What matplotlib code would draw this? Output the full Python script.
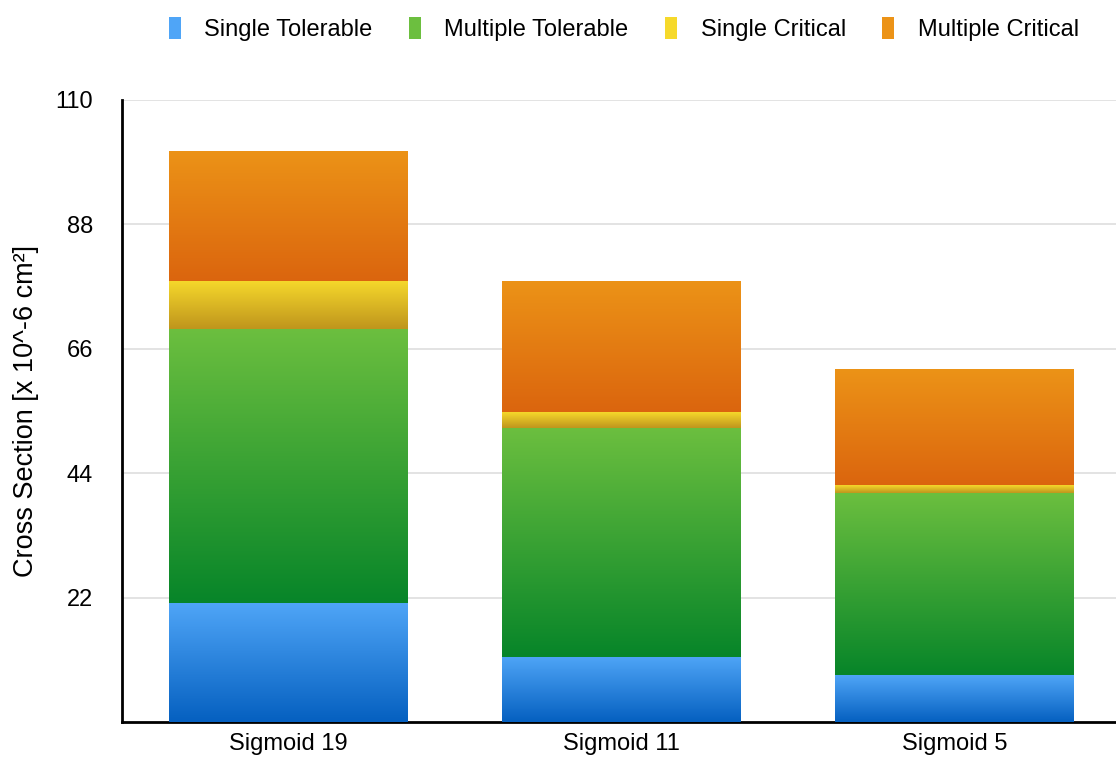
import numpy as np
import matplotlib
matplotlib.use("Agg")
import matplotlib.pyplot as plt
from matplotlib.colors import LinearSegmentedColormap
from matplotlib.patches import Patch

plt.rcParams['font.family'] = ['Liberation Sans', 'DejaVu Sans']

categories = ["Sigmoid 19", "Sigmoid 11", "Sigmoid 5"]
series_names = ["Single Tolerable", "Multiple Tolerable", "Single Critical", "Multiple Critical"]
single_tolerable = [21.0, 11.5, 8.3]
multiple_tolerable = [48.5, 40.5, 32.2]
single_critical = [8.5, 2.8, 1.4]
multiple_critical = [23.0, 23.2, 20.5]
y_ticks = [22, 44, 66, 88, 110]

# (top colour, bottom colour) of each series' vertical gradient
gradients = [
    ("#4fa5f7", "#0560c0"),
    ("#6cbf3f", "#078529"),
    ("#f6d92b", "#bf951d"),
    ("#ec9317", "#db650e"),
]

fig = plt.figure(figsize=(11.16, 7.58), dpi=100)
ax = fig.add_axes([122 / 1116, 36 / 758, 999 / 1116, 622 / 758])

x = np.arange(len(categories))
width = 0.715
values = [single_tolerable, multiple_tolerable, single_critical, multiple_critical]
bottom = np.zeros(len(categories))
grad = np.linspace(0, 1, 256).reshape(-1, 1)
for vals, name, (ctop, cbot) in zip(values, series_names, gradients):
    vals = np.array(vals)
    bars = ax.bar(x, vals, width, bottom=bottom, color=cbot, label=name,
                  linewidth=0, zorder=2)
    cmap = LinearSegmentedColormap.from_list(name, [cbot, ctop])
    for b in bars:
        x0, y0 = b.get_x(), b.get_y()
        im = ax.imshow(grad, cmap=cmap, aspect='auto', origin='lower',
                       extent=[x0, x0 + b.get_width(), y0, y0 + b.get_height()],
                       zorder=3, interpolation='bicubic')
        im.set_clip_path(b)
    bottom += vals

ax.set_xlim(-0.5, 2.5)
ax.set_ylim(0, 110)
ax.set_yticks(y_ticks)
ax.set_yticklabels([str(t) for t in y_ticks], fontsize=17)
ax.set_xticks(x)
ax.set_xticklabels(categories, fontsize=17)
ax.tick_params(length=0)
ax.tick_params(axis='x', pad=8)
ax.tick_params(axis='y', pad=21)
ax.yaxis.grid(True, color='#dedede', linewidth=1.2, zorder=0)
ax.set_axisbelow(True)
for s in ['top', 'right']:
    ax.spines[s].set_visible(False)
for s in ['left', 'bottom']:
    ax.spines[s].set_linewidth(2)
    ax.spines[s].set_color('black')
ax.set_ylabel("Cross Section [x 10^-6 cm²]", fontsize=19.5, labelpad=12)

handles = [Patch(facecolor=c[0], edgecolor='none') for c in gradients]
fig.legend(handles, series_names, loc='upper center', bbox_to_anchor=(0.559, 1.005),
           ncol=4, frameon=False, fontsize=17, handlelength=0.5, handleheight=1.0,
           handletextpad=1.0, columnspacing=1.55)

fig.savefig("out.png", dpi=100)
